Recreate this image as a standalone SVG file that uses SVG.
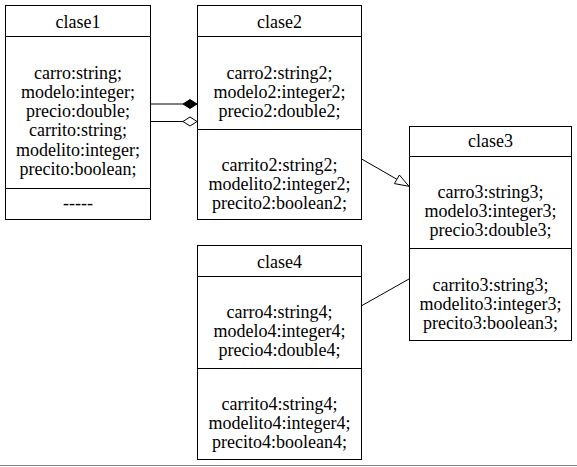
<svg xmlns="http://www.w3.org/2000/svg" width="577" height="467" viewBox="0 0 577 467">
<style>
.box{fill:#fff;stroke:#000;stroke-width:1}
.sep{stroke:#000;stroke-width:1}
.edge{stroke:#000;stroke-width:1;fill:none}
</style>
<rect x="0" y="0" width="577" height="467" fill="#fff"/>
<g font-family="Liberation Serif, Times New Roman, serif" font-size="18" text-anchor="middle" fill="#000">
<g id="clase1">
<rect class="box" x="5.5" y="5.5" width="145" height="214"/>
<line class="sep" x1="5.5" y1="36.5" x2="150.5" y2="36.5"/>
<line class="sep" x1="5.5" y1="188.5" x2="150.5" y2="188.5"/>
<text x="78" y="28">clase1</text>
<text x="78" y="79">carro:string;</text>
<text x="78" y="98">modelo:integer;</text>
<text x="78" y="117">precio:double;</text>
<text x="78" y="136">carrito:string;</text>
<text x="78" y="156">modelito:integer;</text>
<text x="78" y="175">precito:boolean;</text>
<text x="78" y="209">-----</text>
</g>
<g id="clase2">
<rect class="box" x="197.5" y="5.5" width="164" height="214"/>
<line class="sep" x1="197.5" y1="36.5" x2="361.5" y2="36.5"/>
<line class="sep" x1="197.5" y1="129.5" x2="361.5" y2="129.5"/>
<text x="279.5" y="28">clase2</text>
<text x="279.5" y="79">carro2:string2;</text>
<text x="279.5" y="98">modelo2:integer2;</text>
<text x="279.5" y="117">precio2:double2;</text>
<text x="279.5" y="171">carrito2:string2;</text>
<text x="279.5" y="190">modelito2:integer2;</text>
<text x="279.5" y="209">precito2:boolean2;</text>
</g>
<g id="clase3">
<rect class="box" x="409.5" y="126.5" width="162" height="214"/>
<line class="sep" x1="409.5" y1="156.5" x2="571.5" y2="156.5"/>
<line class="sep" x1="409.5" y1="248.5" x2="571.5" y2="248.5"/>
<text x="490.5" y="147">clase3</text>
<text x="490.5" y="198">carro3:string3;</text>
<text x="490.5" y="217">modelo3:integer3;</text>
<text x="490.5" y="236">precio3:double3;</text>
<text x="490.5" y="291">carrito3:string3;</text>
<text x="490.5" y="310">modelito3:integer3;</text>
<text x="490.5" y="329">precito3:boolean3;</text>
</g>
<g id="clase4">
<rect class="box" x="197.5" y="245.5" width="164" height="214"/>
<line class="sep" x1="197.5" y1="276.5" x2="361.5" y2="276.5"/>
<line class="sep" x1="197.5" y1="368.5" x2="361.5" y2="368.5"/>
<text x="279.5" y="268">clase4</text>
<text x="279.5" y="318">carro4:string4;</text>
<text x="279.5" y="337">modelo4:integer4;</text>
<text x="279.5" y="356">precio4:double4;</text>
<text x="279.5" y="410">carrito4:string4;</text>
<text x="279.5" y="429">modelito4:integer4;</text>
<text x="279.5" y="448">precito4:boolean4;</text>
</g>
</g>
<g id="connectors">
<line class="edge" x1="151" y1="104" x2="183" y2="104"/>
<polygon points="197,104 190,99.5 183,104 190,108.5" fill="#000" stroke="#000"/>
<line class="edge" x1="151" y1="121.5" x2="183" y2="121.5"/>
<polygon points="197,121.5 190,117 183,121.5 190,126" fill="#fff" stroke="#000"/>
<line class="edge" x1="362" y1="159.2" x2="396.9" y2="179.3"/>
<polygon points="409,186.3 394.4,183.6 399.4,175" fill="#fff" stroke="#000"/>
<line class="edge" x1="362" y1="305.5" x2="409" y2="279"/>
</g>
<line x1="0" y1="465.5" x2="577" y2="465.5" stroke="#808080" stroke-width="1"/>
</svg>
